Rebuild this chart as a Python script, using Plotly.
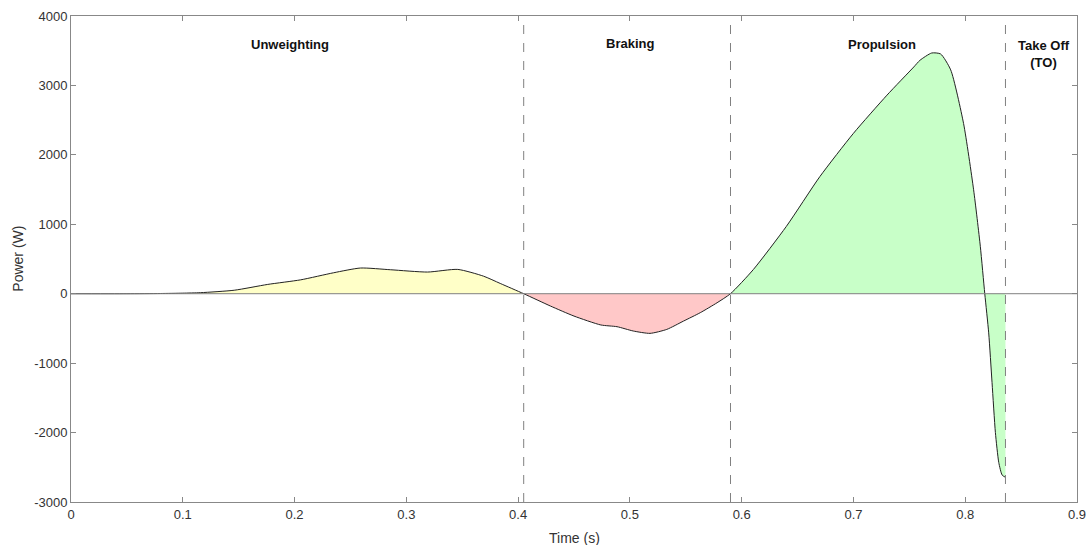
import plotly.graph_objects as go

# Data
time = [0, 0.05, 0.08, 0.1, 0.116, 0.146, 0.176, 0.2055, 0.235, 0.259, 0.286, 0.319, 0.346,
        0.369, 0.384, 0.405, 0.429, 0.450, 0.474, 0.4885, 0.503, 0.518, 0.533, 0.548, 0.563,
        0.578, 0.590, 0.6105, 0.640, 0.670, 0.700, 0.730, 0.754, 0.7595, 0.770, 0.778, 0.787,
        0.7985, 0.8075, 0.8135, 0.8175, 0.821, 0.824, 0.827, 0.830, 0.833, 0.836]
power = [0, 0, 3, 8, 15, 50, 134, 200, 302, 370, 345, 312, 350,
         253, 148, 0, -178, -322, -450, -475, -537, -571, -514, -394, -273,
         -130, 0, 349, 970, 1688, 2310, 2860, 3266, 3362, 3467, 3453, 3224,
         2453, 1497, 683, 0, -564, -1281, -2000, -2430, -2611, -2645]

phase_names = ["Unweighting", "Braking", "Propulsion"]
phase_starts = [0.0, 0.405, 0.590]
phase_ends = [0.405, 0.590, 0.836]
phase_colors = ["rgba(255,255,200,1)", "rgba(255,200,200,1)", "rgba(200,255,200,1)"]
dash_times = [0.405, 0.590, 0.836]

label_texts = ["<b>Unweighting</b>", "<b>Braking</b>", "<b>Propulsion</b>", "<b>Take Off<br>(TO)</b>"]
label_x = [0.196, 0.5005, 0.7255, 0.8705]
label_y = [3590, 3610, 3590, 3450]

x_ticks = [0, 0.1, 0.2, 0.3, 0.4, 0.5, 0.6, 0.7, 0.8, 0.9]
x_ticklabels = ["0", "0.1", "0.2", "0.3", "0.4", "0.5", "0.6", "0.7", "0.8", "0.9"]
y_ticks = [-3000, -2000, -1000, 0, 1000, 2000, 3000, 4000]
y_ticklabels = ["-3000", "-2000", "-1000", "0", "1000", "2000", "3000", "4000"]

fig = go.Figure()

for name, s, e, c in zip(phase_names, phase_starts, phase_ends, phase_colors):
    xs = [t for t in time if s <= t <= e]
    ys = [p for t, p in zip(time, power) if s <= t <= e]
    fig.add_trace(go.Scatter(x=xs, y=ys, mode="lines", fill="tozeroy", fillcolor=c,
                             line=dict(width=0, shape="spline", smoothing=0.6),
                             hoverinfo="skip", showlegend=False, name=name))

fig.add_trace(go.Scatter(x=time, y=power, mode="lines",
                         line=dict(color="#222222", width=1, shape="spline", smoothing=0.6),
                         showlegend=False))

shapes = [dict(type="line", xref="x", yref="y", x0=0, x1=0.9, y0=0, y1=0,
               line=dict(color="#808080", width=1))]
for t in dash_times:
    shapes.append(dict(type="line", xref="x", yref="y", x0=t, x1=t, y0=-3000, y1=4000,
                       line=dict(color="#808080", width=1, dash="dash")))

annotations = []
for txt, x, y in zip(label_texts, label_x, label_y):
    annotations.append(dict(x=x, y=y, xref="x", yref="y", text=txt, showarrow=False,
                            font=dict(family="Liberation Sans, Arial", size=13, color="#111111")))
annotations.append(dict(x=0.5, y=0, xref="paper", yref="paper", yanchor="top",
                        xanchor="center", text="Time (s)", showarrow=False, yshift=-26,
                        font=dict(family="Liberation Sans, Arial", size=14, color="#333333")))
annotations.append(dict(x=-0.053, y=0.5, xref="paper", yref="paper", textangle=-90,
                        xanchor="center", yanchor="middle", text="Power (W)", showarrow=False,
                        font=dict(family="Liberation Sans, Arial", size=14, color="#333333")))

axis_common = dict(showline=True, linecolor="#888888", linewidth=1, mirror="allticks",
                   ticks="inside", ticklen=5, tickcolor="#888888", showgrid=False,
                   zeroline=False, automargin=False,
                   tickfont=dict(family="Liberation Sans, Arial", size=13, color="#333333"))

fig.update_layout(
    width=1089, height=545,
    margin=dict(l=71, r=12, t=16, b=43, autoexpand=False),
    plot_bgcolor="white", paper_bgcolor="white",
    shapes=shapes, annotations=annotations,
    xaxis=dict(range=[0, 0.9], tickvals=x_ticks, ticktext=x_ticklabels, **axis_common),
    yaxis=dict(range=[-3000, 4000], tickvals=y_ticks, ticktext=y_ticklabels, **axis_common),
)

fig.write_html("out.html", config={"displayModeBar": False},
               post_script="document.body.style.margin='0';")
